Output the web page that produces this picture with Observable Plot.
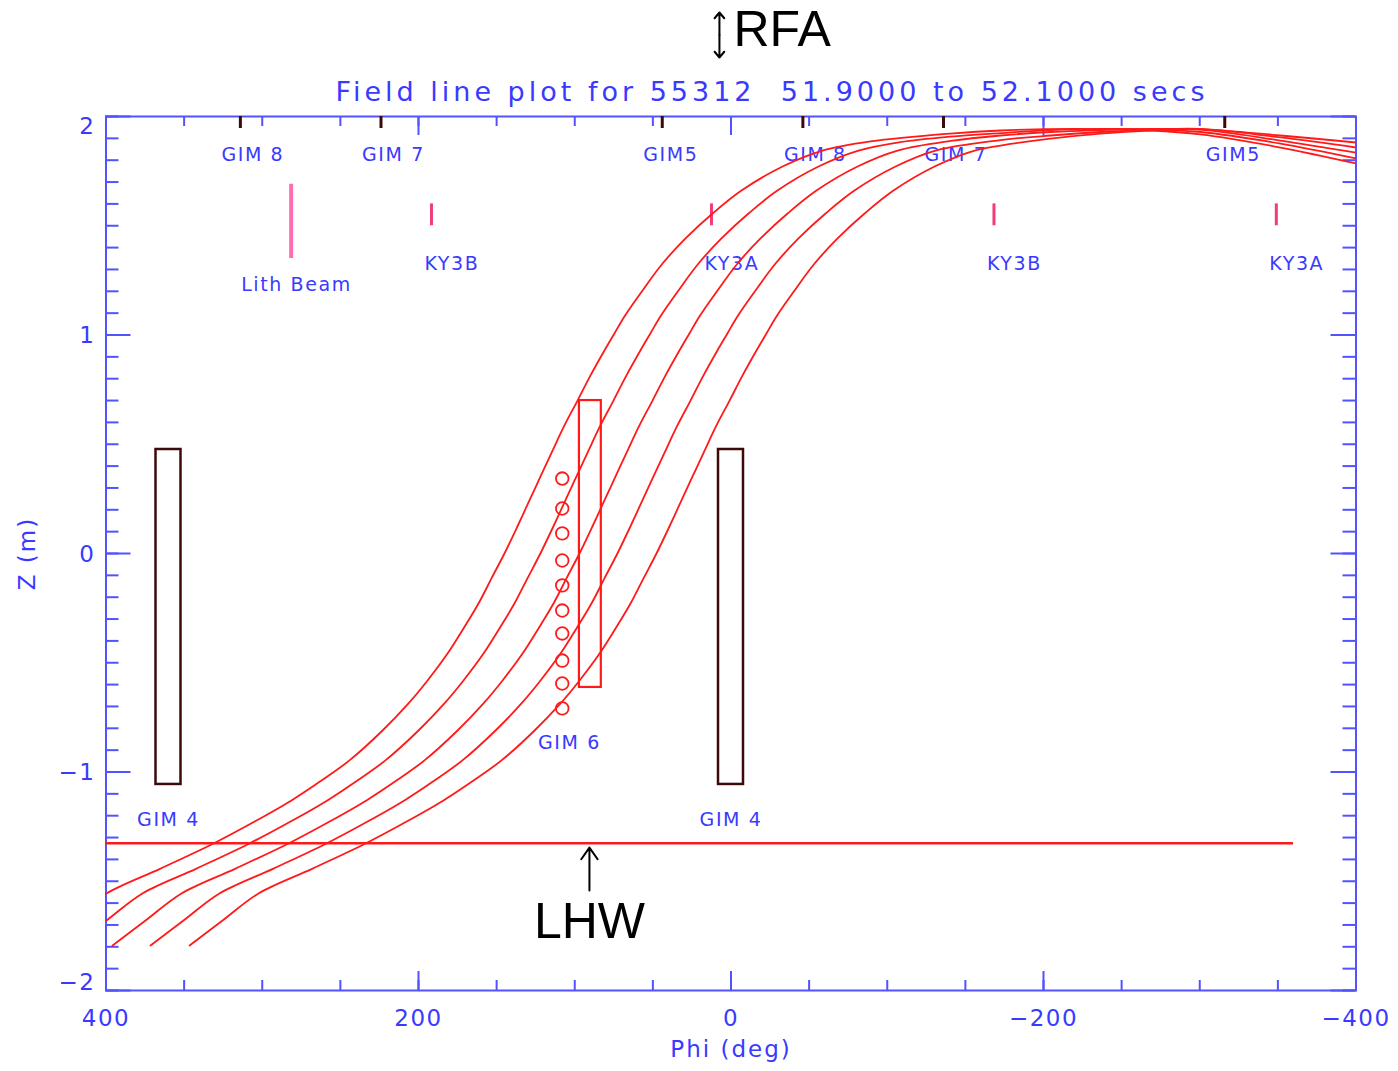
<!DOCTYPE html>
<html>
<head>
<meta charset="utf-8">
<script src="https://cdn.jsdelivr.net/npm/d3@7"></script>
<script src="https://cdn.jsdelivr.net/npm/@observablehq/plot@0.6"></script>
<style>
  html, body { margin: 0; padding: 0; background: #ffffff; }
  #chart svg { display: block; }
</style>
</head>
<body>
<div id="chart"></div>
<script>
// ---------------- data ----------------
// field lines: [phi (deg), Z (m)]
const line1 = [[443.8,-1.794],[422.7,-1.680],[399.7,-1.556],[365.1,-1.442],[331.2,-1.327],[303.7,-1.222],[281.3,-1.130],[262.1,-1.039],[244.2,-0.947],[223.0,-0.810],[206.4,-0.686],[194.2,-0.581],[181.4,-0.458],[171.2,-0.343],[161.6,-0.229],[153.3,-0.114],[145.0,0],[137.0,0.119],[129.0,0.243],[121.6,0.357],[114.2,0.471],[106.6,0.586],[98.2,0.700],[89.9,0.815],[81.0,0.929],[74.6,1.007],[68.2,1.085],[56.6,1.204],[43.8,1.327],[29.1,1.442],[11.8,1.556],[-6.7,1.661],[-33.0,1.771],[-58.6,1.844],[-89.3,1.886],[-140.5,1.922],[-172.5,1.936],[-220.5,1.943],[-268.5,1.936],[-300.5,1.918],[-351.7,1.858],[-400,1.785]];
const line2 = [[420.8,-1.794],[399.7,-1.680],[376.7,-1.556],[342.1,-1.442],[308.2,-1.327],[280.7,-1.222],[258.3,-1.130],[239.1,-1.039],[221.2,-0.947],[200.0,-0.810],[183.4,-0.686],[171.2,-0.581],[158.4,-0.458],[148.2,-0.343],[138.6,-0.229],[130.3,-0.114],[122.0,0],[114.0,0.119],[106.0,0.243],[98.6,0.357],[91.2,0.471],[83.6,0.586],[75.2,0.700],[66.9,0.815],[58.0,0.929],[51.6,1.007],[45.2,1.085],[33.6,1.204],[20.8,1.327],[6.1,1.442],[-11.2,1.556],[-29.7,1.661],[-56.0,1.771],[-81.6,1.844],[-108.5,1.883],[-140.5,1.908],[-172.5,1.924],[-204.5,1.938],[-236.5,1.943],[-268.5,1.941],[-300.5,1.929],[-351.7,1.876],[-400,1.808]];
const line3 = [[395.8,-1.794],[374.7,-1.680],[351.7,-1.556],[317.1,-1.442],[283.2,-1.327],[255.7,-1.222],[233.3,-1.130],[214.1,-1.039],[196.2,-0.947],[175.0,-0.810],[158.4,-0.686],[146.2,-0.581],[133.4,-0.458],[123.2,-0.343],[113.6,-0.229],[105.3,-0.114],[97.0,0],[89.0,0.119],[81.0,0.243],[73.6,0.357],[66.2,0.471],[58.6,0.586],[50.2,0.700],[41.9,0.815],[33.0,0.929],[26.6,1.007],[20.2,1.085],[8.6,1.204],[-4.2,1.327],[-18.9,1.442],[-36.2,1.556],[-54.7,1.661],[-81.0,1.771],[-106.6,1.844],[-140.5,1.888],[-172.5,1.913],[-204.5,1.929],[-236.5,1.938],[-268.5,1.943],[-300.5,1.940],[-351.7,1.890],[-400,1.835]];
const line4 = [[371.5,-1.794],[350.4,-1.680],[327.4,-1.556],[292.8,-1.442],[258.9,-1.327],[231.4,-1.222],[209.0,-1.130],[189.8,-1.039],[171.9,-0.947],[150.7,-0.810],[134.1,-0.686],[121.9,-0.581],[109.1,-0.458],[98.9,-0.343],[89.3,-0.229],[81.0,-0.114],[72.7,0],[64.7,0.119],[56.7,0.243],[49.3,0.357],[41.9,0.471],[34.3,0.586],[25.9,0.700],[17.6,0.815],[8.7,0.929],[2.3,1.007],[-4.1,1.085],[-15.7,1.204],[-28.5,1.327],[-43.2,1.442],[-60.5,1.556],[-79.0,1.661],[-105.3,1.771],[-130.9,1.844],[-172.5,1.892],[-204.5,1.913],[-236.5,1.929],[-268.5,1.939],[-300.5,1.943],[-351.7,1.904],[-400,1.858]];
const line5 = [[346.5,-1.794],[325.4,-1.680],[302.4,-1.556],[267.8,-1.442],[233.9,-1.327],[206.4,-1.222],[184.0,-1.130],[164.8,-1.039],[146.9,-0.947],[125.7,-0.810],[109.1,-0.686],[96.9,-0.581],[84.1,-0.458],[73.9,-0.343],[64.3,-0.229],[56.0,-0.114],[47.7,0],[39.7,0.119],[31.7,0.243],[24.3,0.357],[16.9,0.471],[9.3,0.586],[0.9,0.700],[-7.4,0.815],[-16.3,0.929],[-22.7,1.007],[-29.1,1.085],[-40.7,1.204],[-53.5,1.327],[-68.2,1.442],[-85.5,1.556],[-104.0,1.661],[-130.3,1.771],[-155.9,1.844],[-172.5,1.867],[-204.5,1.899],[-236.5,1.922],[-268.5,1.936],[-300.5,1.941],[-351.7,1.913],[-400,1.881]];

// GIM 6 probe circles
const gim6CirclePhi = 108;
const gim6CircleZ = [0.343, 0.206, 0.092, -0.032, -0.146, -0.261, -0.366, -0.490, -0.595, -0.709];

// boxes
const gim4Boxes = [{phi1: 368, phi2: 352, z1: -1.057, z2: 0.476, label: "GIM 4", phi: 360}, {phi1: 8, phi2: -8, z1: -1.057, z2: 0.476, label: "GIM 4", phi: 0}];
const gim6Box = [{phi1: 97, phi2: 83, z1: -0.613, z2: 0.70}];
const gim4LabelZ = -1.217;
const gim6Label = [{phi: 103.4, z: -0.865, text: "GIM 6"}];

// GIM markers on top axis
const gimTickPhi = [314, 224, 44, -46, -136, -316];
const gimTickLabels = ["GIM 8", "GIM 7", "GIM5", "GIM 8", "GIM 7", "GIM5"];

// KY3 probes and lithium beam
const kyPhi = [191.7, 12.5, -168.3, -349];
const kyLabels = ["KY3B", "KY3A", "KY3B", "KY3A"];
const kyZ = [1.5, 1.6];
const kyLabelZ = 1.325;
const lithBeam = [{phi: 281.5, z1: 1.35, z2: 1.69, labelZ: 1.227, text: "Lith Beam"}];

// LHW horizontal line and black annotations
const lhwZ = -1.326;
const lhwPhi = [400, -360];
const lhwArrow = [{phi: 90.6, z1: -1.542, z2: -1.346}];
const lhwText = [{phi: 90.6, z: -1.686, text: "LHW"}];
const rfaArrow = [{phi: 7.4, zc: 2.373, zTop: 2.476, zBottom: 2.270}];
const rfaText = [{phi: -1.6, z: 2.394, text: "RFA"}];
const titleText = [{phi: -26.2, z: 2.110, text: "Field line plot for 55312  51.9000 to 52.1000 secs"}];

// axes
const xMajor = [400, 200, 0, -200, -400];
const xTickLabels = ["400", "200", "0", "\u2212200", "\u2212400"];
const xMinor = d3.range(-400, 401, 50);
const yMajor = [-2, -1, 0, 1, 2];
const yTickLabels = ["\u22122", "\u22121", "0", "1", "2"];
const yMinor = d3.range(-20, 21, 1).map(d => d / 10);
const xLabel = "Phi (deg)";
const yLabel = "Z (m)";

// ---------------- layout / style ----------------
const W = 1398, H = 1071;
const M = {top: 116, right: 42.5, bottom: 81, left: 105.5};
const innerW = W - M.left - M.right, innerH = H - M.top - M.bottom;
const zPerPx = 4 / innerH, phiPerPx = 800 / innerW;
const axisColor = "#5252ff";
const textBlue = "#3a3aff";
const red = "#ff1a1a";
const dark = "#3d0a0a";
const pink = "#ff6eb0";
const kyPink = "#f23c7a";
const blueFont = "DejaVu Sans";

const fieldLines = [line1, line2, line3, line4, line5].flatMap((pts, i) => pts.map(([phi, z]) => ({line: i + 1, phi, z})));
const yLab = yMajor.map((v, i) => ({v, t: yTickLabels[i]}));

const svg = Plot.plot({
  width: W, height: H,
  marginTop: M.top, marginRight: M.right, marginBottom: M.bottom, marginLeft: M.left,
  x: {domain: [400, -400], axis: null},
  y: {domain: [-2, 2], axis: null},
  style: {background: "#ffffff", overflow: "visible"},
  marks: [
    // ticks (inward, IDL style)
    Plot.ruleX(xMinor, {x: d => d, y1: -2, y2: -2 + 10 * zPerPx, stroke: axisColor, strokeWidth: 2}),
    Plot.ruleX(xMajor, {x: d => d, y1: -2, y2: -2 + 19 * zPerPx, stroke: axisColor, strokeWidth: 2}),
    Plot.ruleX(xMinor, {x: d => d, y1: 2, y2: 2 - 10 * zPerPx, stroke: axisColor, strokeWidth: 2}),
    Plot.ruleX(xMajor, {x: d => d, y1: 2, y2: 2 - 19 * zPerPx, stroke: axisColor, strokeWidth: 2}),
    Plot.ruleY(yMinor, {y: d => d, x1: 400, x2: 400 - 13 * phiPerPx, stroke: axisColor, strokeWidth: 2}),
    Plot.ruleY(yMajor, {y: d => d, x1: 400, x2: 400 - 25 * phiPerPx, stroke: axisColor, strokeWidth: 2}),
    Plot.ruleY(yMinor, {y: d => d, x1: -400, x2: -400 + 13 * phiPerPx, stroke: axisColor, strokeWidth: 2}),
    Plot.ruleY(yMajor, {y: d => d, x1: -400, x2: -400 + 25 * phiPerPx, stroke: axisColor, strokeWidth: 2}),
    Plot.frame({stroke: axisColor, strokeWidth: 2}),

    // tick labels and axis titles
    Plot.text(xMajor, {x: d => d, y: -2, dy: 28.5, text: (d, i) => xTickLabels[i], fill: textBlue, fontSize: 23, fontFamily: blueFont, ariaDescription: "ticklabels"}),
    Plot.text(yLab.filter(d => Math.abs(d.v) < 2), {x: 400, y: "v", dx: -10.5, dy: 1, text: "t", textAnchor: "end", fill: textBlue, fontSize: 23, fontFamily: blueFont, ariaDescription: "ticklabels"}),
    Plot.text(yLab.filter(d => d.v === 2), {x: 400, y: "v", dx: -10.5, dy: 10, text: "t", textAnchor: "end", fill: textBlue, fontSize: 23, fontFamily: blueFont, ariaDescription: "ticklabels"}),
    Plot.text(yLab.filter(d => d.v === -2), {x: 400, y: "v", dx: -10.5, dy: -8, text: "t", textAnchor: "end", fill: textBlue, fontSize: 23, fontFamily: blueFont, ariaDescription: "ticklabels"}),
    Plot.text([xLabel], {x: 0, y: -2, dy: 59.5, text: d => d, fill: textBlue, fontSize: 23, fontFamily: blueFont, ariaDescription: "axislabel"}),
    Plot.text([yLabel], {x: 400, y: 0, dx: -78, rotate: -90, text: d => d, fill: textBlue, fontSize: 23, fontFamily: blueFont, ariaDescription: "axislabel"}),
    Plot.text(titleText, {x: "phi", y: "z", text: "text", fill: textBlue, fontSize: 27, fontFamily: blueFont, ariaDescription: "title"}),

    // annotation labels
    Plot.text(gimTickPhi, {x: d => d, y: 2, dx: -19, dy: 38, text: (d, i) => gimTickLabels[i], textAnchor: "start", fill: textBlue, fontSize: 19, fontFamily: blueFont, ariaDescription: "smalllabels"}),
    Plot.text(kyPhi, {x: d => d, y: kyLabelZ, dx: -7, text: (d, i) => kyLabels[i], textAnchor: "start", fill: textBlue, fontSize: 19, fontFamily: blueFont, ariaDescription: "smalllabels"}),
    Plot.text(lithBeam, {x: "phi", y: "labelZ", dx: -50, text: "text", textAnchor: "start", fill: textBlue, fontSize: 19, fontFamily: blueFont, ariaDescription: "smalllabels"}),
    Plot.text(gim4Boxes, {x: "phi", y: gim4LabelZ, text: "label", fill: textBlue, fontSize: 19, fontFamily: blueFont, ariaDescription: "smalllabels"}),
    Plot.text(gim6Label, {x: "phi", y: "z", text: "text", fill: textBlue, fontSize: 19, fontFamily: blueFont, ariaDescription: "smalllabels"}),

    // diagnostics
    Plot.ruleX(gimTickPhi, {x: d => d, y1: 2, y2: 2 - 12 * zPerPx, stroke: dark, strokeWidth: 3}),
    Plot.ruleX(lithBeam, {x: "phi", y1: "z1", y2: "z2", stroke: pink, strokeWidth: 4}),
    Plot.ruleX(kyPhi, {x: d => d, y1: kyZ[0], y2: kyZ[1], stroke: kyPink, strokeWidth: 3}),
    Plot.rect(gim4Boxes, {x1: "phi1", x2: "phi2", y1: "z1", y2: "z2", fill: "none", stroke: dark, strokeWidth: 2.5}),
    Plot.rect(gim6Box, {x1: "phi1", x2: "phi2", y1: "z1", y2: "z2", fill: "none", stroke: red, strokeWidth: 2.2}),
    Plot.dot(gim6CircleZ, {x: gim6CirclePhi, y: d => d, r: 6.3, stroke: red, strokeWidth: 1.8, fill: "none"}),

    // LHW line
    Plot.ruleY([lhwZ], {y: d => d, x1: lhwPhi[0], x2: lhwPhi[1], stroke: red, strokeWidth: 2.5}),

    // field lines
    Plot.line(fieldLines, {x: "phi", y: "z", z: "line", stroke: red, strokeWidth: 1.8, curve: "catmull-rom", clip: true}),

    // black annotations
    Plot.arrow(lhwArrow, {x: "phi", y1: "z1", y2: "z2", stroke: "black", strokeWidth: 2, headLength: 16, headAngle: 70}),
    Plot.text(lhwText, {x: "phi", y: "z", text: "text", fill: "black", fontSize: 50, fontFamily: "Liberation Sans"}),
    Plot.arrow(rfaArrow, {x: "phi", y1: "zc", y2: "zTop", stroke: "black", strokeWidth: 2, headLength: 13, headAngle: 80}),
    Plot.arrow(rfaArrow, {x: "phi", y1: "zc", y2: "zBottom", stroke: "black", strokeWidth: 2, headLength: 13, headAngle: 80}),
    Plot.text(rfaText, {x: "phi", y: "z", text: "text", textAnchor: "start", fill: "black", fontSize: 50, fontFamily: "Liberation Sans", ariaDescription: "rfa"})
  ]
});

const s = d3.select(svg);
s.selectAll('[aria-description="title"]').attr("letter-spacing", "4px");
s.selectAll('[aria-description="smalllabels"]').attr("letter-spacing", "1.6px");
s.selectAll('[aria-description="ticklabels"]').attr("letter-spacing", "1.5px");
s.selectAll('[aria-description="axislabel"]').attr("letter-spacing", "2px");
document.getElementById("chart").appendChild(svg);
</script>
</body>
</html>
